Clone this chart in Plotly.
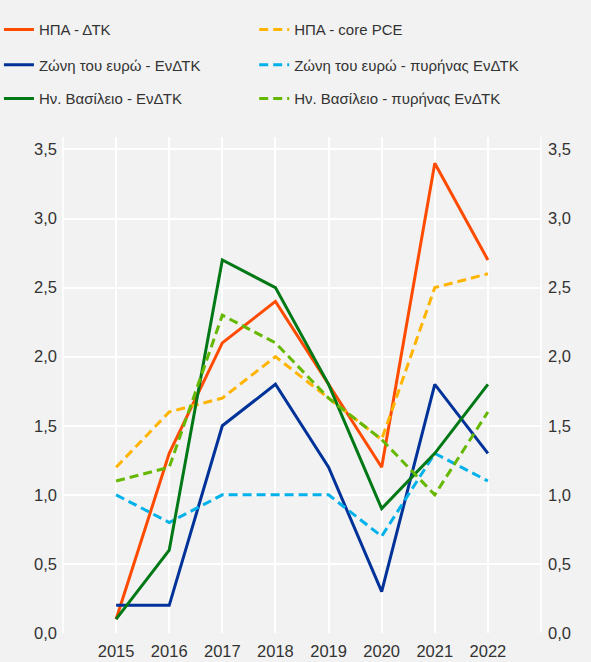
import plotly.graph_objects as go

years = [2015, 2016, 2017, 2018, 2019, 2020, 2021, 2022]
us_cpi = [0.1, 1.3, 2.1, 2.4, 1.8, 1.2, 3.4, 2.7]
us_core_pce = [1.2, 1.6, 1.7, 2.0, 1.7, 1.4, 2.5, 2.6]
ea_hicp = [0.2, 0.2, 1.5, 1.8, 1.2, 0.3, 1.8, 1.3]
ea_core = [1.0, 0.8, 1.0, 1.0, 1.0, 0.7, 1.3, 1.1]
uk_cpi = [0.1, 0.6, 2.7, 2.5, 1.8, 0.9, 1.3, 1.8]
uk_core = [1.1, 1.2, 2.3, 2.1, 1.7, 1.4, 1.0, 1.6]

names = ["ΗΠΑ - ΔΤΚ", "ΗΠΑ - core PCE", "Ζώνη του ευρώ - ΕνΔΤΚ",
         "Ζώνη του ευρώ - πυρήνας ΕνΔΤΚ", "Ην. Βασίλειο - ΕνΔΤΚ",
         "Ην. Βασίλειο - πυρήνας ΕνΔΤΚ"]
series = [us_cpi, us_core_pce, ea_hicp, ea_core, uk_cpi, uk_core]
colors = ["#FF4B00", "#FFB400", "#003299", "#00B1EA", "#007816", "#65B800"]
dashes = ["solid", "9px,5px", "solid", "9px,5px", "solid", "9px,5px"]
legend_ids = ["legend", "legend2", "legend3", "legend4", "legend5", "legend6"]

fig = go.Figure()
for n, s, c, d, lg in zip(names, series, colors, dashes, legend_ids):
    fig.add_trace(go.Scatter(x=years, y=s, name=n, mode="lines",
                             line=dict(color=c, width=3, dash=d),
                             legend=lg))
# invisible trace to activate right axis
fig.add_trace(go.Scatter(x=years, y=us_cpi, yaxis="y2", mode="lines",
                         line=dict(width=0), opacity=0, showlegend=False,
                         hoverinfo="skip"))

font = dict(family="Liberation Sans, Arial, sans-serif", size=15, color="#333333")
tickfont = dict(family="Liberation Sans, Arial, sans-serif", size=16.5, color="#333333")
leg_common = dict(orientation="v", xanchor="left", yanchor="middle",
                  bgcolor="rgba(0,0,0,0)", font=font, itemclick=False)
col_x = [-0.134, 0.400]
row_y = [1.216, 1.145, 1.077]
leg_layout = {}
for i, lg in enumerate(legend_ids):
    leg_layout[lg] = dict(**leg_common, x=col_x[i % 2], y=row_y[i // 2])

fig.update_layout(
    width=591, height=662,
    margin=dict(l=63, r=50, t=137, b=29, autoexpand=False),
    paper_bgcolor="#F2F2F2", plot_bgcolor="#F2F2F2",
    font=font,
    separators=",.",
    **leg_layout,
    xaxis=dict(range=[2014, 2023], tickvals=years, ticktext=[str(y) for y in years],
               showgrid=True, gridcolor="#FFFFFF", gridwidth=1.5,
               zeroline=False, showline=False, ticks="", tickfont=tickfont,
               ticklabelstandoff=6),
    yaxis=dict(range=[0, 3.59], tickvals=[0, 0.5, 1, 1.5, 2, 2.5, 3, 3.5],
               tickformat=".1f", showgrid=True, gridcolor="#FFFFFF", gridwidth=1.5,
               zeroline=False, showline=False, ticks="", tickfont=tickfont,
               ticklabelstandoff=5),
    yaxis2=dict(range=[0, 3.59], tickvals=[0, 0.5, 1, 1.5, 2, 2.5, 3, 3.5],
                tickformat=".1f", overlaying="y", side="right", showgrid=False,
                zeroline=False, showline=False, ticks="", tickfont=tickfont,
                ticklabelstandoff=6),
    shapes=[
        dict(type="line", xref="paper", yref="paper", x0=0, x1=0, y0=0, y1=1,
             line=dict(color="#FFFFFF", width=1.5)),
        dict(type="line", xref="paper", yref="paper", x0=1, x1=1, y0=0, y1=1,
             line=dict(color="#FFFFFF", width=1.5)),
    ],
)

fig.write_html("out.html",
               config={"displayModeBar": False},
               post_script="document.body.style.margin='0';"
                           "document.body.style.background='#F2F2F2';")
